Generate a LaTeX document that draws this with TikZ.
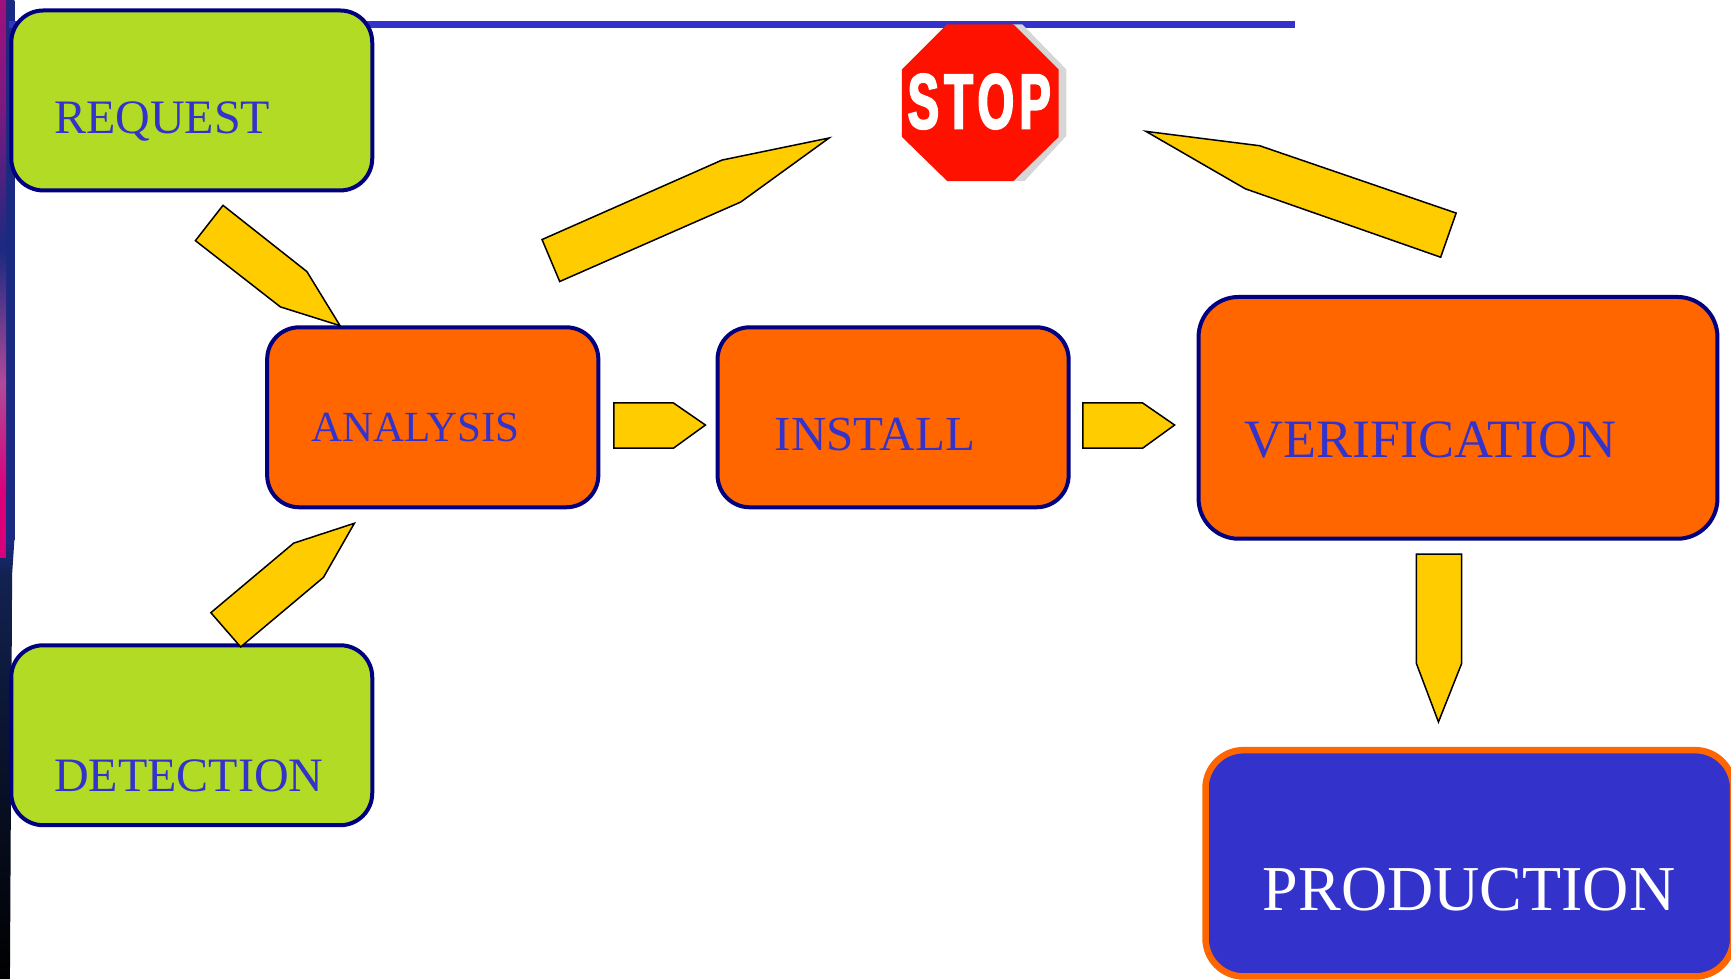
\documentclass[tikz,border=0pt]{standalone}
\usepackage{fontspec}
\setmainfont{Liberation Serif}
\newfontfamily\stopfont[FakeStretch=0.6,FakeBold=2.5,LetterSpace=7]{Liberation Sans Bold}
\definecolor{lime}{HTML}{B2DB25}
\definecolor{hot}{HTML}{FF6600}
\definecolor{navy}{HTML}{000080}
\definecolor{royal}{HTML}{3333CC}
\definecolor{amber}{HTML}{FFCC00}
\definecolor{signred}{HTML}{FF1100}
\definecolor{signgray}{HTML}{D6D6D6}
\definecolor{barA}{HTML}{A0107F}
\definecolor{barB}{HTML}{7A1A80}
\definecolor{barC}{HTML}{1A2A80}
\definecolor{barD}{HTML}{B04A99}
\definecolor{barE}{HTML}{D9007A}
\definecolor{barF}{HTML}{122250}
\tikzset{
  stagebox/.style={draw=navy,line width=4pt,rounded corners=32pt,inner sep=0pt,outer sep=0pt},
  limebox/.style={stagebox,fill=lime},
  hotbox/.style={stagebox,fill=hot},
  bighot/.style={stagebox,fill=hot,rounded corners=40pt},
  prodbox/.style={draw=hot,fill=royal,line width=6.5pt,rounded corners=38pt,inner sep=0pt,outer sep=0pt},
  boxtext/.style={anchor=base west,inner sep=0pt,outer sep=0pt,text=royal},
  blockarrow/.style={draw=black,fill=amber,line width=1.5pt,line join=miter},
}
\begin{document}
\begin{tikzpicture}[x=1.104pt,y=-1.104pt]
\useasboundingbox (0,0) rectangle (1568,887);
% left edge bar
\shade[top color=barC,bottom color=barC] (0,0) rectangle (13,490);
\shade[top color=barC,bottom color=barF] (0,490) -- (13,490) -- (11,520) -- (0,520) -- cycle;
\shade[top color=barF,bottom color=black] (0,520) -- (11,520) -- (9,887) -- (0,887) -- cycle;
\shade[top color=barA,bottom color=barB] (0,0) rectangle (5.5,100);
\shade[top color=barB,bottom color=barC] (0,100) rectangle (5.5,226);
\shade[top color=barC,bottom color=barD] (0,226) rectangle (5.5,347);
\shade[top color=barD,bottom color=barE] (0,347) rectangle (5.5,446);
\fill[barE] (0,446) rectangle (5.5,505);
% top rule
\draw[royal,line width=7.5pt] (8,22) -- (1173,22);
% stop sign
\fill[signgray] (917,22) -- (926,22) -- (966,63) -- (966,123) -- (928,164) -- (917,164) -- cycle;
\fill[signred] (858,22) -- (918,22) -- (959,63) -- (959,124) -- (918,164) -- (858,164) -- (817,124) -- (817,63) -- cycle;
\node (stoptext) at (887,92) [inner sep=0pt,text=white,font=\stopfont\fontsize{78}{78}\selectfont] {STOP};
% stage boxes
\node[limebox,minimum width=327*1.104pt,minimum height=163*1.104pt] (request) at (173.7,91) {};
\node[limebox,minimum width=327*1.104pt,minimum height=163*1.104pt] (detection) at (173.7,666) {};
\node[hotbox,minimum width=300*1.104pt,minimum height=163*1.104pt] (analysis) at (392,378) {};
\node[hotbox,minimum width=318*1.104pt,minimum height=163*1.104pt] (install) at (809,378) {};
\node[bighot,minimum width=470*1.104pt,minimum height=219*1.104pt] (verification) at (1320.7,378.5) {};
\node[prodbox,minimum width=478*1.104pt,minimum height=205*1.104pt] (production) at (1331,782) {};
% labels
\node[boxtext,font=\fontsize{48}{48}\selectfont] (requestlabel) at (49,121) {REQUEST};
\node[boxtext,font=\fontsize{48}{48}\selectfont] (detectionlabel) at (49,717) {DETECTION};
\node[boxtext,font=\fontsize{43}{43}\selectfont] (analysislabel) at (282,400) {ANALYSIS};
\node[boxtext,font=\fontsize{49}{49}\selectfont] (installlabel) at (702,408) {INSTALL};
\node[boxtext,font=\fontsize{54}{54}\selectfont] (verificationlabel) at (1127,414) {VERIFICATION};
\node[boxtext,text=white,font=\fontsize{64}{64}\selectfont] (productionlabel) at (1144,825) {PRODUCTION};
% block arrows
\draw[blockarrow] (202,186) -- (278,246) -- (308,295) -- (254,278) -- (177,218) -- cycle;
\draw[blockarrow] (491,217) -- (654,145) -- (751,125) -- (671,183) -- (507,255) -- cycle;
\draw[blockarrow] (1319,193) -- (1141,132) -- (1038,119) -- (1128,171) -- (1305,233) -- cycle;
\draw[blockarrow] (556,365) -- (610,365) -- (639,385) -- (610,406) -- (556,406) -- cycle;
\draw[blockarrow] (981,365) -- (1035,365) -- (1064,385) -- (1035,406) -- (981,406) -- cycle;
\draw[blockarrow] (1283,502) -- (1324,502) -- (1324,601) -- (1303,654) -- (1283,601) -- cycle;
\draw[blockarrow] (321,474) -- (293,523) -- (218,586) -- (191,555) -- (266,492) -- cycle;
\end{tikzpicture}
\end{document}
